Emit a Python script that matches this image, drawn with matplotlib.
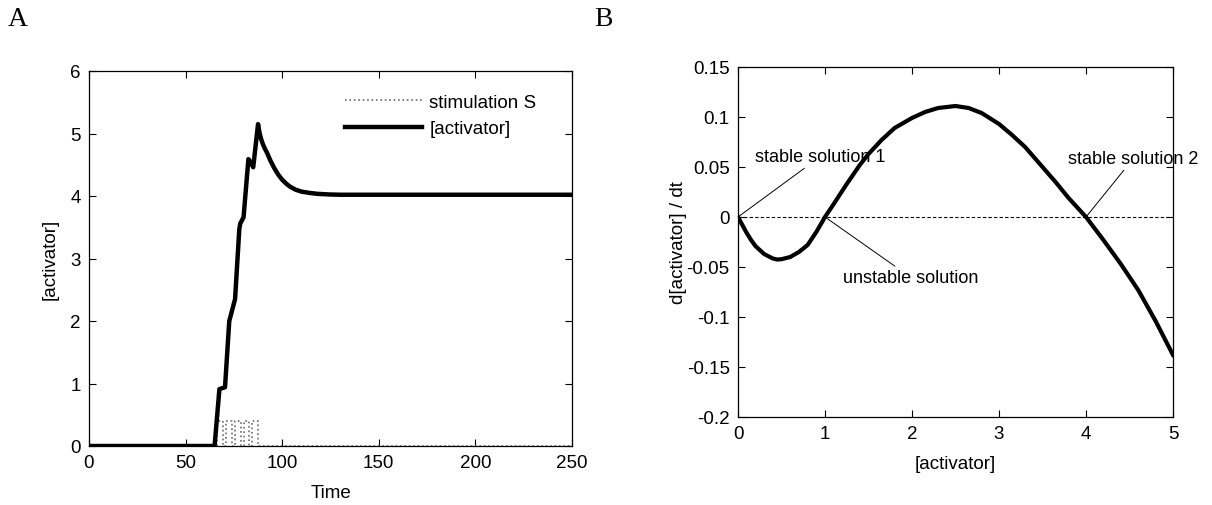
import numpy as np
import matplotlib.pyplot as plt

plt.rcParams['font.family'] = ['Liberation Sans', 'DejaVu Sans']

# panel A: activator time course
time_pts = [0, 65, 67.5, 70.4, 72.6, 73.3, 75.6, 77.8, 78.3, 80.0, 82.5, 83.5,
            85.0, 87.5, 88.2, 89, 90, 91, 92, 94, 96, 98, 100, 102, 104, 107,
            110, 114, 118, 124, 130, 150, 250]
activator = [0, 0, 0.91, 0.94, 2.0, 2.08, 2.35, 3.47, 3.56, 3.66, 4.59, 4.55,
             4.46, 5.15, 5.02, 4.92, 4.83, 4.76, 4.70, 4.56, 4.44, 4.34, 4.26,
             4.20, 4.15, 4.10, 4.07, 4.05, 4.035, 4.025, 4.02, 4.02, 4.02]

# stimulation pulses (on / off times, amplitude)
pulse_on = [66.5, 71, 75.5, 80, 84.5]
pulse_off = [69.5, 74, 78.5, 83, 87.5]
pulse_amp = 0.4

# panel B: rate curve d[activator]/dt vs [activator]
act_conc = [0, 0.05, 0.1, 0.15, 0.2, 0.3, 0.4, 0.45, 0.5, 0.6, 0.7, 0.8,
            0.9, 1.0, 1.1, 1.25, 1.4, 1.5, 1.65, 1.8, 2.0, 2.15, 2.3, 2.4,
            2.5, 2.65, 2.8, 3.0, 3.15, 3.3, 3.5, 3.65, 3.8, 4.0, 4.2, 4.4,
            4.6, 4.8, 5.0]
rate = [0, -0.008, -0.016, -0.023, -0.029, -0.037, -0.0415, -0.0425,
        -0.0422, -0.040, -0.035, -0.028, -0.015, 0, 0.013, 0.033, 0.052,
        0.063, 0.077, 0.089, 0.099, 0.105, 0.109, 0.110, 0.111, 0.109,
        0.104, 0.093, 0.082, 0.070, 0.050, 0.035, 0.019, 0, -0.023,
        -0.047, -0.073, -0.104, -0.138]

# build the stimulation step line
stim_t = [0]
stim_v = [0]
for a, b in zip(pulse_on, pulse_off):
    stim_t += [a, a, b, b]
    stim_v += [0, pulse_amp, pulse_amp, 0]
stim_t.append(250)
stim_v.append(0)

fig = plt.figure(figsize=(12.12, 5.06), dpi=100)

def matlab_axes(ax):
    ax.tick_params(direction='in', top=True, right=True, length=5,
                   labelsize=13.5, width=0.8, pad=6)
    for s in ax.spines.values():
        s.set_linewidth(0.9)

# ---- panel A
ax = fig.add_axes([89/1212, 1 - 447/506, 483/1212, 375/506])
ax.plot(stim_t, stim_v, color='#6a6a6a', linestyle=':', linewidth=1.2,
        label='stimulation S')
ax.plot(time_pts, activator, color='black', linewidth=3.2, label='[activator]')
ax.set_xlim(0, 250)
ax.set_ylim(0, 6)
ax.set_xticks([0, 50, 100, 150, 200, 250])
ax.set_yticks([0, 1, 2, 3, 4, 5, 6])
ax.set_xlabel('Time', fontsize=13.5, labelpad=9)
ax.set_ylabel('[activator]', fontsize=13.5, labelpad=8)
matlab_axes(ax)
ax.legend(loc='upper left', frameon=False, fontsize=13.5,
          handlelength=4.1, handletextpad=0.4, labelspacing=0.5,
          bbox_to_anchor=(0.53, 0.94), borderaxespad=0, borderpad=0)

# ---- panel B
bx = fig.add_axes([738/1212, 1 - 418/506, 435/1212, 350/506])
bx.axhline(0, color='black', linestyle='--', linewidth=0.8, dashes=(3, 2))
bx.plot(act_conc, rate, color='black', linewidth=3.0)
bx.set_xlim(0, 5)
bx.set_ylim(-0.2, 0.15)
bx.set_xticks([0, 1, 2, 3, 4, 5])
bx.set_yticks([-0.2, -0.15, -0.1, -0.05, 0, 0.05, 0.1, 0.15])
bx.set_yticklabels(['-0.2', '-0.15', '-0.1', '-0.05', '0', '0.05', '0.1', '0.15'])
bx.set_xlabel('[activator]', fontsize=13.5, labelpad=9)
bx.set_ylabel('d[activator] / dt', fontsize=13.5, labelpad=0)
matlab_axes(bx)

arrow = dict(arrowstyle='-', color='black', linewidth=0.7, shrinkA=0, shrinkB=0)
bx.annotate('stable solution 1', xy=(0, 0), xytext=(0.19, 0.06),
            fontsize=13, va='center', ha='left', arrowprops=arrow)
bx.annotate('unstable solution', xy=(1, 0), xytext=(1.21, -0.0605),
            fontsize=13, va='center', ha='left', arrowprops=arrow)
bx.annotate('stable solution 2', xy=(4, 0), xytext=(3.79, 0.058),
            fontsize=13, va='center', ha='left', arrowprops=arrow)

# panel letters
fig.text(8/1212, 1 - 19/506, 'A', fontsize=20, family='Liberation Serif',
         va='center', ha='left')
fig.text(594/1212, 1 - 19/506, 'B', fontsize=20, family='Liberation Serif',
         va='center', ha='left')

fig.savefig('out.png', dpi=100)
